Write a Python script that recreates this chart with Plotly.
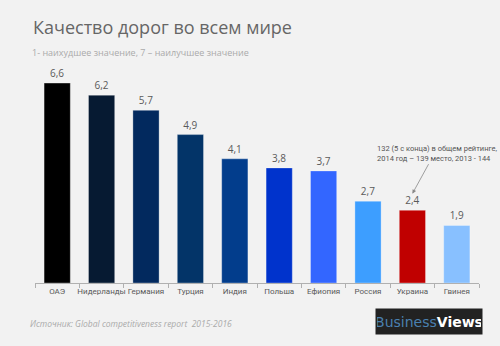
import plotly.graph_objects as go

categories = ["ОАЭ", "Нидерланды", "Германия", "Турция", "Индия", "Польша", "Ефиопия", "Россия", "Украина", "Гвинея"]
values = [6.6, 6.2, 5.7, 4.9, 4.1, 3.8, 3.7, 2.7, 2.4, 1.9]
labels = ["6,6", "6,2", "5,7", "4,9", "4,1", "3,8", "3,7", "2,7", "2,4", "1,9"]
colors = ["#000000", "#061a32", "#02295e", "#033468", "#023d8c", "#0033cc", "#3366ff", "#3d9eff", "#c00000", "#88c0ff"]

FONT = "Open Sans, DejaVu Sans, sans-serif"
SMALL = "Roboto, Open Sans, sans-serif"

fig = go.Figure()
fig.add_trace(go.Bar(
    x=categories, y=values, text=labels, textposition="outside",
    textfont=dict(size=10, color="#5a5a5a", family=FONT),
    marker=dict(color=colors, line=dict(color="rgba(255,255,255,0.3)", width=1)),
    cliponaxis=False, hoverinfo="skip",
))

fig.update_layout(
    width=500, height=346,
    margin=dict(l=35, r=21, t=71, b=63),
    paper_bgcolor="#f2f2f2", plot_bgcolor="#f2f2f2",
    bargap=0.41, showlegend=False,
    font=dict(family=FONT, color="#555555"),
    xaxis=dict(
        showline=True, linecolor="#b0b0b0", linewidth=1,
        ticks="outside", tickson="boundaries", ticklen=4, tickcolor="#b0b0b0",
        tickangle=0, automargin=False,
        tickfont=dict(size=8, color="#5a5a5a", family=SMALL), showgrid=False, fixedrange=True,
    ),
    yaxis=dict(range=[0, 7], visible=False, showgrid=False, fixedrange=True),
    annotations=[
        dict(xref="paper", yref="paper", x=-0.01, y=1.0, yanchor="bottom", xanchor="left",
             yshift=30, text="Качество дорог во всем мире", showarrow=False,
             font=dict(size=18, color="#666666", family=FONT)),
        dict(xref="paper", yref="paper", x=-0.012, y=1.0, yanchor="bottom", xanchor="left",
             yshift=10, text="1- наихудшее значение, 7 – наилучшее значение", showarrow=False,
             font=dict(size=9, color="#aaaaaa", family=FONT)),
        dict(xref="paper", yref="paper", x=-0.015, y=0, yanchor="middle", xanchor="left",
             yshift=-40, text="<i>Источник: Global competitiveness report  2015-2016</i>", showarrow=False,
             font=dict(size=8.5, color="#aaaaaa", family=FONT)),
        dict(x="Украина", y=2.95, xref="x", yref="y", ax=17, ay=-31,
             text="", showarrow=True, arrowhead=2, arrowsize=1, arrowwidth=0.8, arrowcolor="#888888",
             standoff=0),
        dict(xref="paper", yref="paper", x=0.765, y=0.555, xanchor="left", yanchor="bottom", align="left",
             text="132 (5 с конца) в общем рейтинге,<br>2014 год – 139 место, 2013 - 144", showarrow=False,
             font=dict(size=7.5, color="#555555", family=SMALL)),
        dict(xref="paper", yref="paper", x=0.8875, y=-0.18, xanchor="center", yanchor="middle",
             text="<span style='color:#4a80b0'>Business</span><b>Views</b>", showarrow=False,
             width=104, height=23, bgcolor="#222222", borderpad=1,
             font=dict(size=14, color="#ffffff", family="DejaVu Sans, sans-serif")),
    ],
)

fig.write_html("out.html")
